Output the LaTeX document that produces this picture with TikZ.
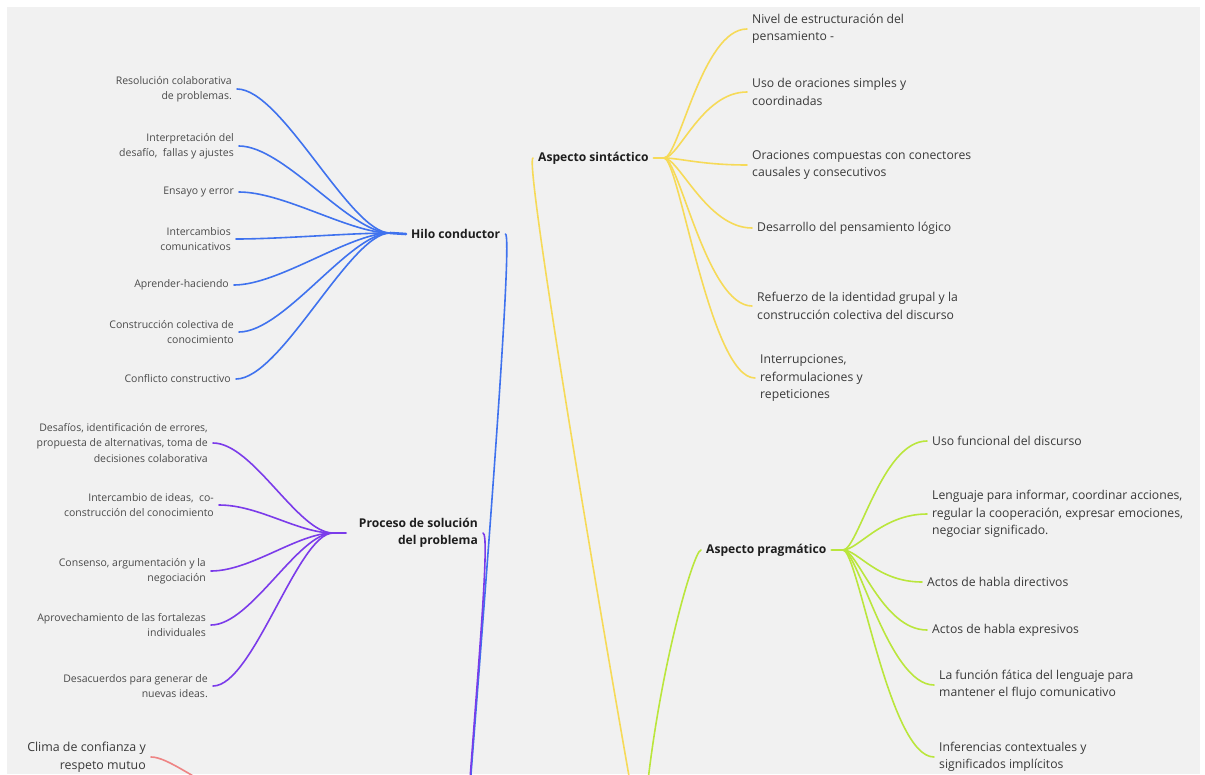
\documentclass[tikz,border=0pt]{standalone}
\usepackage{fontspec}
\setmainfont{Open Sans}
\definecolor{pagebg}{HTML}{F1F1F1}
\definecolor{bluebr}{HTML}{3F72EE}
\definecolor{purplebr}{HTML}{7B3BEA}
\definecolor{yellowbr}{HTML}{F6DA58}
\definecolor{greenbr}{HTML}{BAE63C}
\definecolor{redbr}{HTML}{EE8484}
\definecolor{leaftxt}{HTML}{4A4A4A}
\definecolor{leaftxtR}{HTML}{3A3A3A}
\definecolor{hubtxt}{HTML}{1E1E1E}
\begin{document}
\begin{tikzpicture}[x=1pt,y=-1pt,
  leafL/.style={anchor=east, align=right, inner xsep=5pt, inner ysep=1pt,
    text=leaftxt, font=\fontsize{10.5}{15.5}\selectfont},
  leafR/.style={anchor=west, align=left, inner xsep=5pt, inner ysep=1pt,
    text=leaftxtR, font=\fontsize{12.2}{17.5}\selectfont},
  hubnode/.style={inner xsep=5pt, inner ysep=1pt, text=hubtxt,
    font=\bfseries\fontsize{12.1}{17.5}\selectfont},
  twig/.style={line width=1.6pt, line cap=round},
  trunk/.style={line width=1.6pt, line cap=round},
  stub/.style={line width=2.6pt, line cap=round}]

\useasboundingbox (0,0) rectangle (1205,774);
\fill[white] (0,0) rectangle (1205,774);
\fill[pagebg] (7,7) rectangle (1200,774);

% ---------- off-page central topic anchors ----------
\coordinate (rootL) at (465,850);
\coordinate (rootR) at (642,850);

% ---------- hubs ----------
\coordinate (hubH) at (390,233);
\coordinate (hubP) at (333,533);
\coordinate (hubS) at (664,158);
\coordinate (hubG) at (843,550);

% ---------- branch labels ----------
\node[hubnode, anchor=west] (hilo) at (406,234) {Hilo conductor};
\node[hubnode, anchor=east, align=right] (proc) at (483,533) {Proceso de solución\\del problema};
\node[hubnode, anchor=west] (sint) at (533,158) {Aspecto sintáctico};
\node[hubnode, anchor=west] (prag) at (701,550) {Aspecto pragmático};

% ---------- Hilo conductor ----------
\node[leafL] (b1) at (237,89) {Resolución colaborativa\\de problemas.};
\node[leafL] (b2) at (239,146) {Interpretación del\\desafío,\ \ fallas y ajustes};
\node[leafL] (b3) at (239,192) {Ensayo y error};
\node[leafL] (b4) at (236,239) {Intercambios\\comunicativos};
\node[leafL] (b5) at (234,285) {Aprender-haciendo};
\node[leafL] (b6) at (239,332) {Construcción colectiva de\\conocimiento};
\node[leafL] (b7) at (236,379) {Conflicto constructivo};

% ---------- Proceso de solución ----------
\node[leafL] (p1) at (213,443) {Desafíos, identificación de errores,\\propuesta de alternativas, toma de\\decisiones colaborativa};
\node[leafL] (p2) at (219,505) {Intercambio de ideas,\ \ co-\\construcción del conocimiento};
\node[leafL] (p3) at (211,571) {Consenso, argumentación y la\\negociación};
\node[leafL] (p4) at (211,625) {Aprovechamiento de las fortalezas\\individuales};
\node[leafL] (p5) at (213,686) {Desacuerdos para generar de\\nuevas ideas.};

% ---------- Clima ----------
\node[leafL, text=leaftxtR, font=\fontsize{12.4}{17.5}\selectfont] (clima) at (151,757) {Clima de confianza y\\respeto mutuo};

% ---------- Aspecto sintáctico ----------
\node[leafR] (y1) at (747,29) {Nivel de estructuración del\\pensamiento -};
\node[leafR] (y2) at (747,92) {Uso de oraciones simples y\\coordinadas};
\node[leafR] (y3) at (747,165) {Oraciones compuestas con conectores\\causales y consecutivos};
\node[leafR] (y4) at (752,228) {Desarrollo del pensamiento lógico};
\node[leafR] (y5) at (752,306) {Refuerzo de la identidad grupal y la\\construcción colectiva del discurso};
\node[leafR] (y6) at (755,378) {Interrupciones,\\reformulaciones y\\repeticiones};

% ---------- Aspecto pragmático ----------
\node[leafR] (g1) at (927,441) {Uso funcional del discurso};
\node[leafR] (g2) at (927,514) {Lenguaje para informar, coordinar acciones,\\regular la cooperación, expresar emociones,\\negociar significado.};
\node[leafR] (g3) at (922,582) {Actos de habla directivos};
\node[leafR] (g4) at (927,630) {Actos de habla expresivos};
\node[leafR] (g5) at (934,685) {La función fática del lenguaje para\\mantener el flujo comunicativo};
\node[leafR] (g6) at (934,757) {Inferencias contextuales y\\significados implícitos};

\begin{scope}
\clip (7,7) rectangle (1200,774);

% trunks from the central topic
\draw[trunk, bluebr] (rootL) .. controls (488,560) and (513,234) .. (hilo.east);
\draw[trunk, purplebr] (rootL) .. controls (475,700) and (491,533) .. (proc.east);
\draw[trunk, yellowbr] (rootR) .. controls (580,500) and (525,158) .. (sint.west);
\draw[trunk, greenbr] (rootR) .. controls (650,700) and (693,550) .. (prag.west);
\draw[trunk, redbr] (clima.east) .. controls (185,757) and (260,850) .. (rootL);

% Hilo conductor twigs
\foreach \n in {b1,b2,b3,b4,b5,b6,b7}
  \draw[twig, bluebr] (\n.east) .. controls +(45,0) and +(-40,0) .. (hubH);
\draw[stub, bluebr] (hubH) -- (hilo.west);

% Proceso twigs
\foreach \n in {p1,p2,p3,p4,p5}
  \draw[twig, purplebr] (\n.east) .. controls +(40,0) and +(-35,0) .. (hubP);
\draw[stub, purplebr] (hubP) -- ([xshift=-8pt]proc.west |- hubP);

% Sintactico twigs
\draw[stub, yellowbr] (sint.east) -- (hubS);
\foreach \n in {y1,y2,y3,y4,y5,y6}
  \draw[twig, yellowbr] (hubS) .. controls +(15,0) and +(-45,0) .. (\n.west);

% Pragmatico twigs
\draw[stub, greenbr] (prag.east) -- (hubG);
\foreach \n in {g1,g2,g3,g4,g5,g6}
  \draw[twig, greenbr] (hubG) .. controls +(15,0) and +(-45,0) .. (\n.west);
\end{scope}

\end{tikzpicture}
\end{document}
